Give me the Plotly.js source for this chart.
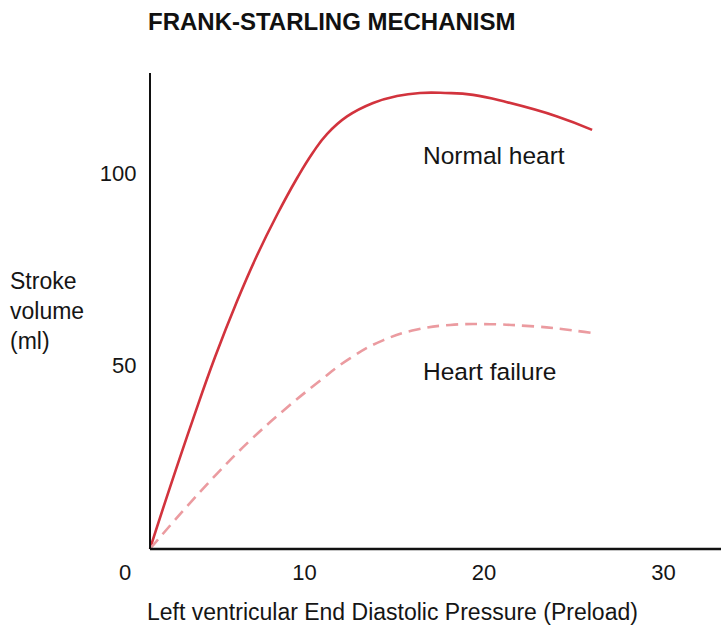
<!DOCTYPE html>
<html>
<head>
<meta charset="utf-8">
<script src="https://cdn.plot.ly/plotly-3.0.1.min.js"></script>
<style>html,body{margin:0;padding:0;background:#fff;}#chart{width:721px;height:628px;}</style>
</head>
<body>
<div id="chart"></div>
<script>
// Data
var normalX = [1.39, 2.51, 3.79, 5.01, 6.24, 7.35, 8.47, 9.58, 10.47, 11.25, 12.37, 13.82, 15.15, 16.43, 17.83, 19.39, 21.28, 24.07, 26.02];
var normalY = [2.1, 18.2, 35.9, 52.0, 66.6, 78.5, 89.1, 98.6, 105.3, 110.1, 114.7, 118.2, 120.0, 120.8, 120.8, 120.3, 118.4, 114.7, 111.2];
var failureX = [1.39, 3.23, 5.13, 6.96, 8.80, 10.70, 12.53, 14.37, 16.27, 18.11, 20.33, 22.56, 24.07, 26.02];
var failureY = [2.1, 12.0, 21.7, 30.3, 38.0, 45.3, 51.7, 56.4, 59.2, 60.4, 60.6, 60.1, 59.5, 58.3];
var xTicks = [0, 10, 20, 30];
var yTicks = [50, 100];
var seriesNames = ["Normal heart", "Heart failure"];
var chartTitle = "FRANK-STARLING MECHANISM";
var xTitle = "Left ventricular End Diastolic Pressure (Preload)";
var yTitle = "Stroke<br>volume<br>(ml)";

var FONT = "Liberation Sans, Arial, Helvetica, sans-serif";
var TXT = "#151515";

var traces = [
  {x: normalX, y: normalY, mode: "lines", name: seriesNames[0],
   line: {color: "#d2333d", width: 2.6, shape: "spline", smoothing: 1.3}, hoverinfo: "skip"},
  {x: failureX, y: failureY, mode: "lines", name: seriesNames[1],
   line: {color: "#eb9ba0", width: 2.6, shape: "spline", smoothing: 1.3, dash: "12px,7px"}, hoverinfo: "skip"}
];

var yAxisPos = 1.39 / 33.2;

var layout = {
  width: 721, height: 628,
  margin: {l: 125, r: 0, t: 73, b: 79, pad: 0},
  paper_bgcolor: "#fff", plot_bgcolor: "#fff",
  showlegend: false,
  font: {family: FONT, color: TXT, size: 22},
  title: {text: "<b>" + chartTitle + "</b>", x: 148/721, xanchor: "left", xref: "container",
          y: 1 - 22/628, yanchor: "middle", yref: "container",
          font: {family: FONT, size: 24, color: "#111"}},
  xaxis: {range: [0, 33.2], showline: false, showgrid: false, zeroline: false,
          tickvals: xTicks, ticktext: xTicks.map(String), ticks: "",
          tickfont: {family: FONT, size: 22, color: TXT}, ticklabelstandoff: 8, fixedrange: true},
  yaxis: {range: [2.08, 126], anchor: "free", position: yAxisPos, showline: true, linecolor: "#111", linewidth: 2.2,
          showgrid: false, zeroline: false, tickvals: yTicks, ticktext: yTicks.map(String), ticks: "",
          tickfont: {family: FONT, size: 22, color: TXT}, ticklabelstandoff: 8, fixedrange: true},
  shapes: [
    {type: "line", xref: "paper", yref: "paper", x0: yAxisPos, x1: 1, y0: 0, y1: 0,
     line: {color: "#111", width: 2.6}}
  ],
  annotations: [
    {text: seriesNames[0], xref: "x", yref: "y", x: 16.5, y: 104.4, xanchor: "left", yanchor: "middle",
     showarrow: false, font: {family: FONT, size: 24.5, color: TXT}},
    {text: seriesNames[1], xref: "x", yref: "y", x: 16.5, y: 48.2, xanchor: "left", yanchor: "middle",
     showarrow: false, font: {family: FONT, size: 24.5, color: TXT}},
    {text: yTitle, xref: "paper", yref: "paper", x: -117/596, y: (549-311)/476, xanchor: "left", yanchor: "middle",
     align: "left", showarrow: false, font: {family: FONT, size: 23, color: TXT}},
    {text: xTitle, xref: "paper", yref: "paper", x: (392-125)/596, y: -(612-549)/476, xanchor: "center", yanchor: "middle",
     showarrow: false, font: {family: FONT, size: 23, color: TXT}}
  ]
};

Plotly.newPlot("chart", traces, layout, {staticPlot: true, displayModeBar: false});
</script>
</body>
</html>
